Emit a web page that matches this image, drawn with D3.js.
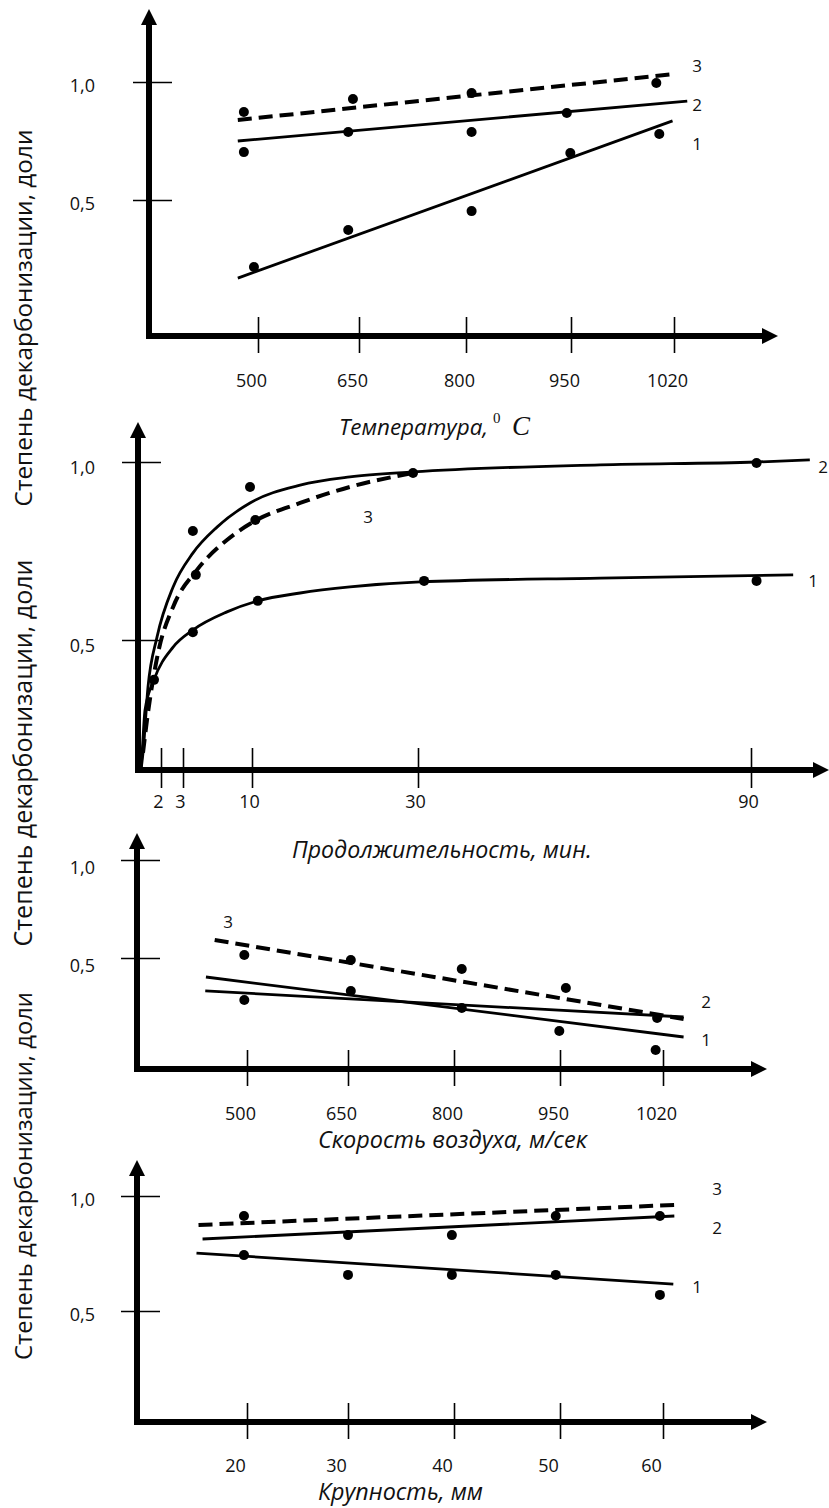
<!DOCTYPE html>
<html><head><meta charset="utf-8">
<script src="https://cdn.jsdelivr.net/npm/d3@7/dist/d3.min.js"></script>
<style>body{margin:0;background:#fff}svg{display:block}</style>
</head><body>
<svg id="c" width="829" height="1508"></svg>
<script>
// ================= DATA =================
const yTickValues = [0.5, 1.0];
const yTickLabels = ["0,5", "1,0"];
const seriesNames = ["1", "2", "3"];

// Panel 1: temperature, °C
const tempTicks = [500, 650, 800, 950, 1020];
const tempPts1 = [[494,0.216],[634,0.373],[808,0.453],[949,0.699],[1010,0.780]];
const tempPts2 = [[479,0.703],[634,0.788],[808,0.788],[944,0.869]];
const tempPts3 = [[479,0.873],[641,0.928],[808,0.953],[1008,0.996]];
const tempFit1 = [[470,0.169],[1019,0.835]];
const tempFit2 = [[470,0.750],[1029,0.919]];
const tempFit3 = [[470,0.839],[1021,1.034]];

// Panel 2: duration, min
const durTicks = [2, 3, 10, 30, 90];
const durPts1 = [[1.3,0.388],[4.0,0.522],[10.7,0.610],[31.1,0.666],[91,0.666]];
const durPts2 = [[4.0,0.806],[9.8,0.930],[29.4,0.969],[91,0.997]];
const durPts3 = [[4.3,0.683],[10.4,0.837]];
const durCurve1 = [[0,0.135],[0.15,0.20],[0.4,0.303],[1.3,0.388],[2.55,0.480],[4.0,0.528],[7.46,0.579],[10.7,0.610],[15.8,0.632],[21.8,0.649],[30.4,0.663],[62.8,0.674],[97.6,0.683]];
const durCurve2 = [[0,0.135],[0.2,0.183],[0.7,0.368],[1.6,0.508],[2.55,0.649],[4.0,0.744],[6.45,0.817],[9.8,0.885],[15.8,0.935],[21.8,0.958],[29.4,0.972],[62.8,0.992],[91,1.0],[100.6,1.006]];
const durCurve3 = [[0.2,0.183],[0.6,0.275],[1.7,0.463],[2.55,0.593],[4.42,0.697],[7.46,0.781],[10.1,0.831],[15.8,0.885],[21.8,0.930],[29.4,0.969]];

// Panel 3: air speed
const speedTicks = [500, 650, 800, 950, 1020];
const speedPts1 = [[811,0.245],[949,0.128],[1015,0.031]];
const speedPts2 = [[496,0.286],[654,0.332],[1016,0.194]];
const speedPts3 = [[496,0.515],[654,0.490],[811,0.444],[954,0.347]];
const speedFit1 = [[439,0.403],[1034,0.097]];
const speedFit2 = [[438,0.332],[1034,0.199]];
const speedFit3 = [[452,0.592],[1034,0.189]];

// Panel 4: size, mm
const sizeTicks = [20, 30, 40, 50, 60];
const sizePts1 = [[19.7,0.743],[30,0.657],[39.8,0.657],[49.6,0.657],[59.7,0.570]];
const sizePts2 = [[30,0.830],[39.8,0.830],[49.6,0.913],[59.7,0.913]];
const sizePts3 = [[19.7,0.913]];
const sizeFit1 = [[15.0,0.752],[61.0,0.617]];
const sizeFit2 = [[15.6,0.813],[61.1,0.913]];
const sizeFit3 = [[15.2,0.874],[61.1,0.961]];

const yTitle = "Степень декарбонизации, доли";
const xTitles = ["Температура,", "Продолжительность, мин.", "Скорость воздуха, м/сек", "Крупность, мм"];

// ================= LAYOUT =================
const FONT = "'Open Sans', 'DejaVu Sans', sans-serif";
const svg = d3.select("#c");

const panels = [
  { ticks: tempTicks, xDomain: tempTicks, xRange: [258,359,466,571,674], yRange: [200,82],
    ox: 149, oy: 336, top: 9, right: 778, xLabY: 387, xLabDx: -7, yLabDy: 3, tickUp: 19, tickDown: 17,
    lines: [tempFit1, tempFit2, tempFit3], pts: [tempPts1, tempPts2, tempPts3], curve: d3.curveLinear,
    labPos: [[697,150],[697,111],[697,72]] },
  { ticks: durTicks, xDomain: [0,2,3,10,30,90], xRange: [141,161,183,252,418,751], yRange: [640,462],
    ox: 138, oy: 770, top: 422, right: 829, xLabY: 808, xLabDx: -3, yLabDy: 5, tickUp: 22, tickDown: 18,
    lines: [durCurve1, durCurve2, durCurve3], pts: [durPts1, durPts2, durPts3], curve: d3.curveMonotoneX,
    labPos: [[813,587],[823,473],[368,523]] },
  { ticks: speedTicks, xDomain: speedTicks, xRange: [247,348,454,560,663], yRange: [958,860],
    ox: 137, oy: 1069, top: 833, right: 767, xLabY: 1120, xLabDx: -7, yLabDy: 7, tickUp: 19, tickDown: 17,
    lines: [speedFit1, speedFit2, speedFit3], pts: [speedPts1, speedPts2, speedPts3], curve: d3.curveLinear,
    labPos: [[706,1046],[706,1008],[228,928]] },
  { ticks: sizeTicks, xDomain: sizeTicks, xRange: [247,348,454,560,663], yRange: [1311,1196],
    ox: 137, oy: 1422, top: 1160, right: 767, xLabY: 1472, xLabDx: -12, yLabDy: 3, tickUp: 19, tickDown: 17,
    lines: [sizeFit1, sizeFit2, sizeFit3], pts: [sizePts1, sizePts2, sizePts3], curve: d3.curveLinear,
    labPos: [[697,1293],[717,1234],[717,1195]] }
];

panels.forEach(p => {
  const x = d3.scaleLinear().domain(p.xDomain).range(p.xRange);
  const y = d3.scaleLinear().domain(yTickValues).range(p.yRange);
  const g = svg.append("g");

  // x axis ticks & labels
  const gx = g.append("g").attr("transform", `translate(0,${p.oy})`)
    .call(d3.axisBottom(x).tickValues(p.ticks).tickSize(0).tickPadding(0).tickFormat(d3.format("d")));
  gx.select(".domain").remove();
  gx.attr("font-family", FONT).attr("font-size", 18);
  gx.selectAll(".tick line").attr("y1", -p.tickUp).attr("y2", p.tickDown).attr("stroke", "#000").attr("stroke-width", 1.6);
  gx.selectAll(".tick text").attr("y", p.xLabY - p.oy).attr("dy", null).attr("dx", p.xLabDx).attr("fill", "#111");

  // y axis ticks & labels
  const gy = g.append("g").attr("transform", `translate(${p.ox},0)`)
    .call(d3.axisLeft(y).tickValues(yTickValues).tickSize(0).tickPadding(0)
      .tickFormat((d, i) => yTickLabels[i]));
  gy.select(".domain").remove();
  gy.attr("font-family", FONT).attr("font-size", 18);
  gy.selectAll(".tick line").attr("x1", -16).attr("x2", 23).attr("stroke", "#000").attr("stroke-width", 1.6);
  gy.selectAll(".tick text").attr("x", 95 - p.ox).attr("dy", null)
    .attr("y", 6.5 + p.yLabDy).attr("fill", "#111");

  // main axis lines with arrows
  const ah = 16, aw = 8;
  g.append("path")
    .attr("d", `M${p.ox},${p.top + ah - 1} V${p.oy} H${p.right - ah + 1}`)
    .attr("fill", "none").attr("stroke", "#000").attr("stroke-width", 6).attr("stroke-linejoin", "miter");
  g.append("path")
    .attr("d", `M${p.ox - aw},${p.top + ah} L${p.ox + aw},${p.top + ah} L${p.ox},${p.top} Z`).attr("fill", "#000");
  g.append("path")
    .attr("d", `M${p.right - ah},${p.oy - aw} L${p.right - ah},${p.oy + aw} L${p.right},${p.oy} Z`).attr("fill", "#000");

  // data lines
  const line = d3.line().x(d => x(d[0])).y(d => y(d[1])).curve(p.curve);
  p.lines.forEach((ld, i) => {
    const dashed = i === 2;
    g.append("path").datum(ld).attr("d", line)
      .attr("fill", "none").attr("stroke", "#000")
      .attr("stroke-width", dashed ? 4 : 2.8)
      .attr("stroke-dasharray", dashed ? "14,7" : null);
  });

  // points
  p.pts.forEach(ps => {
    g.selectAll(null).data(ps).enter().append("circle")
      .attr("cx", d => x(d[0])).attr("cy", d => y(d[1])).attr("r", 5).attr("fill", "#000");
  });

  // series labels
  seriesNames.forEach((n, i) => {
    g.append("text").attr("x", p.labPos[i][0]).attr("y", p.labPos[i][1])
      .attr("text-anchor", "middle").attr("font-family", FONT).attr("font-size", 17).attr("fill", "#111").text(n);
  });
});

// fit helper
function fit(sel, target) {
  const w = sel.node().getComputedTextLength();
  const fs = parseFloat(sel.attr("font-size"));
  sel.attr("font-size", (fs * target / w).toFixed(2));
}

// y titles (rotated)
[[318, 377], [753, 387], [1176, 368]].forEach(([cy, len]) => {
  const t = svg.append("text").attr("transform", `translate(32,${cy}) rotate(-90)`)
    .attr("text-anchor", "middle").attr("font-family", FONT).attr("font-size", 24).attr("fill", "#111").text(yTitle);
  fit(t, len);
});

// x titles
[[339, 435, 149], [292, 858, 300], [318, 1148, 269], [318, 1500, 165]].forEach(([x0, yb, w], i) => {
  const t = svg.append("text").attr("x", x0).attr("y", yb).attr("font-family", FONT)
    .attr("font-style", "italic").attr("font-size", 22).attr("fill", "#111").text(xTitles[i]);
  fit(t, w);
});
svg.append("text").attr("x", 493).attr("y", 423).attr("font-family", "'Liberation Serif', serif")
  .attr("font-size", 15).attr("fill", "#111").text("0");
svg.append("text").attr("x", 512).attr("y", 435).attr("font-family", "'Liberation Serif', serif")
  .attr("font-style", "italic").attr("font-size", 27).attr("fill", "#111").text("C");
</script>
</body></html>
